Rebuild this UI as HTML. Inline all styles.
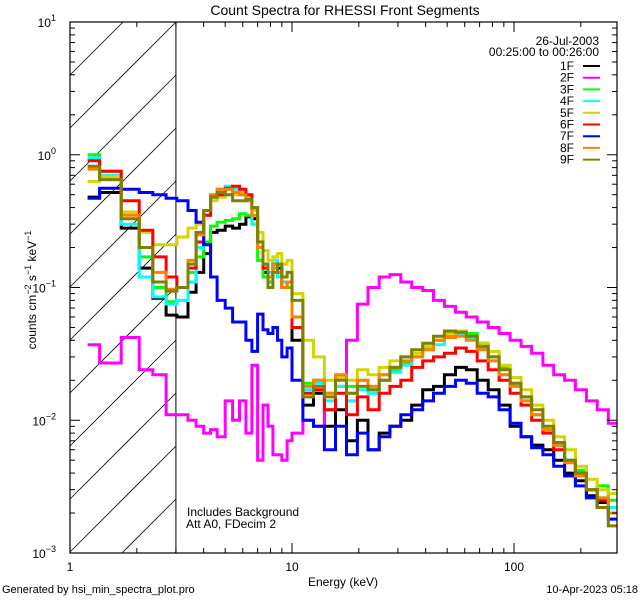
<!DOCTYPE html>
<html><head><meta charset="utf-8">
<style>
html,body{margin:0;padding:0;background:#fff;width:640px;height:600px;overflow:hidden;}
svg{display:block;font-family:"Liberation Sans",sans-serif;overflow:hidden;}
</style></head>
<body>
<svg id="chart" width="640" height="600" viewBox="0 0 640 600" xmlns="http://www.w3.org/2000/svg">
<rect width="640" height="600" fill="#fff"/>
<text x="345" y="15" font-size="14" text-anchor="middle">Count Spectra for RHESSI Front Segments</text>
<g id="hatch"></g>
<g id="series"></g>
<g id="axes"></g>
<text transform="translate(36,290) rotate(-90)" font-size="12" text-anchor="middle">counts cm<tspan dy="-5" font-size="9">−2</tspan><tspan dy="5"> s</tspan><tspan dy="-5" font-size="9">−1</tspan><tspan dy="5"> keV</tspan><tspan dy="-5" font-size="9">−1</tspan></text>
<text x="343" y="586" font-size="12" text-anchor="middle">Energy (keV)</text>
<text x="599" y="45" font-size="12" text-anchor="end">26-Jul-2003</text>
<text x="599" y="56" font-size="12" text-anchor="end">00:25:00 to 00:26:00</text>
<g id="legend"></g>
<text x="187" y="516" font-size="12">Includes Background</text>
<text x="186" y="528" font-size="12">Att A0, FDecim 2</text>
<text x="2" y="593" font-size="11">Generated by hsi_min_spectra_plot.pro</text>
<text x="638" y="593" font-size="11" text-anchor="end">10-Apr-2023 05:18</text>
</svg>
<script>
// ---- data ----
const edgesLow = [1.2,1.36,1.7,2.05,2.36,2.71,3.03,3.4,3.7,4.0,4.3,4.6,5.0,5.4,5.8,6.2,6.6,7.0,7.4,7.8,8.2,8.6,9.0,9.5];
const edgesHigh = [10,11.2,12.5,14,15.7,17.6,19.7,22,24.7,27.6,30.9,34.6,38.8,43.4,48.6,54.5,61,68.3,76.5,85.7,96,107.5,120,135,151,169,189,212,237,266,298];
const seriesNames = ["1F","2F","3F","4F","5F","6F","7F","8F","9F"];
const seriesColors = ["#000000","#ff00ff","#00ff00","#00ffff","#d4d400","#ff0000","#0000ff","#ff8000","#808000"];
const s1Low = [0.48,0.52,0.28,0.14,0.083,0.062,0.060,0.092,0.13,0.18,0.26,0.27,0.29,0.28,0.30,0.34,0.33,0.20,0.13,0.12,0.15,0.14,0.10,0.10];
const s1High = [0.04,0.013,0.016,0.009,0.012,0.007,0.01,0.006,0.008,0.009,0.01,0.013,0.017,0.018,0.022,0.025,0.024,0.02,0.017,0.013,0.009,0.0075,0.0065,0.006,0.005,0.004,0.0035,0.0027,0.0024,0.002];
const s2Low = [0.037,0.027,0.042,0.024,0.022,0.011,0.011,0.010,0.009,0.008,0.0085,0.0075,0.014,0.010,0.014,0.008,0.026,0.005,0.013,0.009,0.0055,0.0055,0.005,0.007];
const s2High = [0.008,0.01,0.009,0.012,0.018,0.04,0.075,0.1,0.12,0.125,0.11,0.1,0.095,0.08,0.072,0.065,0.06,0.055,0.05,0.045,0.04,0.036,0.032,0.026,0.022,0.02,0.017,0.014,0.012,0.0095];
const s3Low = [1.0,0.75,0.37,0.17,0.10,0.078,0.08,0.13,0.17,0.22,0.29,0.31,0.32,0.33,0.36,0.35,0.30,0.16,0.12,0.11,0.14,0.13,0.10,0.10];
const s3High = [0.05,0.019,0.02,0.016,0.021,0.018,0.02,0.017,0.022,0.024,0.027,0.03,0.035,0.04,0.044,0.047,0.045,0.038,0.03,0.025,0.019,0.015,0.011,0.0085,0.0065,0.005,0.0042,0.003,0.0032,0.0025];
const s4Low = [0.95,0.70,0.30,0.12,0.085,0.075,0.08,0.11,0.2,0.35,0.5,0.55,0.58,0.55,0.5,0.45,0.30,0.20,0.14,0.13,0.16,0.12,0.11,0.11];
const s4High = [0.05,0.017,0.019,0.014,0.018,0.014,0.017,0.016,0.02,0.023,0.026,0.03,0.034,0.037,0.042,0.044,0.042,0.035,0.028,0.022,0.018,0.014,0.011,0.0085,0.0064,0.005,0.004,0.003,0.0026,0.0022];
const s5Low = [0.63,0.68,0.37,0.26,0.21,0.21,0.24,0.28,0.3,0.35,0.45,0.48,0.5,0.5,0.52,0.48,0.38,0.26,0.19,0.16,0.17,0.18,0.15,0.16];
const s5High = [0.09,0.04,0.03,0.02,0.021,0.02,0.024,0.022,0.025,0.028,0.03,0.032,0.036,0.04,0.045,0.047,0.043,0.038,0.033,0.026,0.021,0.017,0.013,0.01,0.0075,0.006,0.0045,0.0036,0.003,0.0028];
const s6Low = [0.9,0.75,0.45,0.27,0.17,0.12,0.10,0.14,0.22,0.35,0.48,0.5,0.56,0.58,0.55,0.5,0.4,0.22,0.14,0.12,0.15,0.13,0.10,0.11];
const s6High = [0.05,0.016,0.017,0.012,0.016,0.011,0.015,0.012,0.016,0.018,0.02,0.025,0.028,0.03,0.032,0.035,0.033,0.028,0.024,0.02,0.016,0.013,0.01,0.008,0.006,0.0048,0.0038,0.003,0.0025,0.002];
const s7Low = [0.47,0.56,0.55,0.52,0.5,0.47,0.45,0.38,0.31,0.21,0.12,0.08,0.07,0.055,0.055,0.04,0.033,0.063,0.048,0.045,0.05,0.04,0.03,0.035];
const s7High = [0.02,0.01,0.009,0.006,0.009,0.0055,0.008,0.006,0.0075,0.009,0.011,0.012,0.014,0.016,0.018,0.02,0.019,0.016,0.015,0.012,0.0095,0.0075,0.0062,0.0055,0.0045,0.0038,0.0032,0.0026,0.0022,0.0018];
const s8Low = [0.78,0.65,0.35,0.2,0.13,0.097,0.1,0.16,0.25,0.38,0.5,0.55,0.55,0.52,0.5,0.45,0.35,0.2,0.15,0.12,0.15,0.13,0.1,0.11];
const s8High = [0.06,0.018,0.02,0.016,0.022,0.016,0.02,0.018,0.022,0.025,0.028,0.03,0.034,0.04,0.042,0.043,0.04,0.034,0.028,0.022,0.018,0.014,0.011,0.0085,0.0065,0.0048,0.0038,0.003,0.0026,0.002];
const s9Low = [0.82,0.65,0.33,0.2,0.11,0.094,0.1,0.15,0.26,0.38,0.48,0.52,0.5,0.45,0.45,0.46,0.4,0.22,0.15,0.1,0.13,0.15,0.12,0.13];
const s9High = [0.08,0.015,0.018,0.015,0.02,0.016,0.018,0.017,0.02,0.025,0.03,0.034,0.038,0.043,0.047,0.046,0.043,0.036,0.03,0.024,0.019,0.015,0.012,0.009,0.0068,0.005,0.004,0.003,0.0022,0.0016];
const xMajorTicks = [1,10,100];
const yDecades = [-3,-2,-1,0,1];

// ---- geometry ----
const L=70, R=617, T=22, B=553;
const XDEC=222, YDEC=(B-T)/4;
const xs = e => L + Math.log10(e)*XDEC;
const ys = v => B - (Math.log10(v)+3)*YDEC;
const NS="http://www.w3.org/2000/svg";
function mk(tag, attrs, parent){const el=document.createElementNS(NS,tag);for(const k in attrs)el.setAttribute(k,attrs[k]);parent.appendChild(el);return el;}

// hatch: lines y = c - x, clipped analytically to [L,X3]x[T,B]
const hatch=document.getElementById('hatch');
const X3=xs(3);
for(let c=T+L-53*3; c<B+X3+53; c+=53){
  // endpoints
  let xa=Math.max(L, c-B), xb=Math.min(X3, c-T);
  if(xb<=xa) continue;
  const ln=mk('line',{x1:xa.toFixed(1),y1:(c-xa).toFixed(1),x2:xb.toFixed(1),y2:(c-xb).toFixed(1),stroke:'#000','stroke-width':0.8},hatch);
  
  
}
const bl=mk('line',{x1:X3,y1:T,x2:X3,y2:B,stroke:'#000','stroke-width':1},hatch);



// series
const lows=[s1Low,s2Low,s3Low,s4Low,s5Low,s6Low,s7Low,s8Low,s9Low];
const highs=[s1High,s2High,s3High,s4High,s5High,s6High,s7High,s8High,s9High];
const edges=edgesLow.concat(edgesHigh);
const sg=document.getElementById('series');
const clampY=y=>Math.min(B,Math.max(T,y));
const clampX=x=>Math.min(R,Math.max(L,x));
for(let s=0;s<9;s++){
  const vals=lows[s].concat(highs[s]);
  let d='';
  for(let i=0;i<vals.length;i++){
    const x0=clampX(xs(edges[i])).toFixed(1), x1=clampX(xs(edges[i+1])).toFixed(1), y=clampY(ys(vals[i])).toFixed(1);
    d+=(i===0?'M'+x0+' '+y:'V'+y)+'H'+x1;
  }
  const p=mk('path',{d:d,fill:'none',stroke:seriesColors[s],'stroke-width':3,'stroke-linejoin':'miter'},sg);
  
  
}

// axes
const ax=document.getElementById('axes');
mk('rect',{x:L,y:T,width:R-L,height:B-T,fill:'none',stroke:'#000','stroke-width':1.2},ax);
for(let dec=0;dec<3;dec++){
  for(let m=1;m<10;m++){
    const e=Math.pow(10,dec)*m; const x=xs(e); if(x>R)break;
    const len=m===1?10:5;
    mk('line',{x1:x,y1:B,x2:x,y2:B-len,stroke:'#000'},ax);
    mk('line',{x1:x,y1:T,x2:x,y2:T+len,stroke:'#000'},ax);
  }
}
xMajorTicks.forEach(e=>{
  const t=mk('text',{x:xs(e),y:B+18,'font-size':12,'text-anchor':'middle'},ax);
  t.textContent=String(e);
  
  
});
yDecades.forEach(dc=>{
  for(let m=1;m<10;m++){
    if(dc===1&&m>1)break;
    const y=ys(Math.pow(10,dc)*m); const len=m===1?10:5;
    mk('line',{x1:L,y1:y,x2:L+len,y2:y,stroke:'#000'},ax);
    mk('line',{x1:R,y1:y,x2:R-len,y2:y,stroke:'#000'},ax);
  }
  const t=mk('text',{x:L-14,y:ys(Math.pow(10,dc))+5,'font-size':12,'text-anchor':'end'},ax);
  t.textContent='10';
  const sp=mk('tspan',{dy:-6,'font-size':9},t);
  sp.textContent=String(dc).replace('-','−');
  
  
});

// legend
const lg=document.getElementById('legend');
for(let s=0;s<9;s++){
  const y=66+s*11.7;
  const t=mk('text',{x:574,y:y+4,'font-size':12,'text-anchor':'end'},lg);
  t.textContent=seriesNames[s];
  
  
  const l=mk('line',{x1:583,y1:y,x2:600,y2:y,stroke:seriesColors[s],'stroke-width':2},lg);
  
  
}
</script>
</body></html>
